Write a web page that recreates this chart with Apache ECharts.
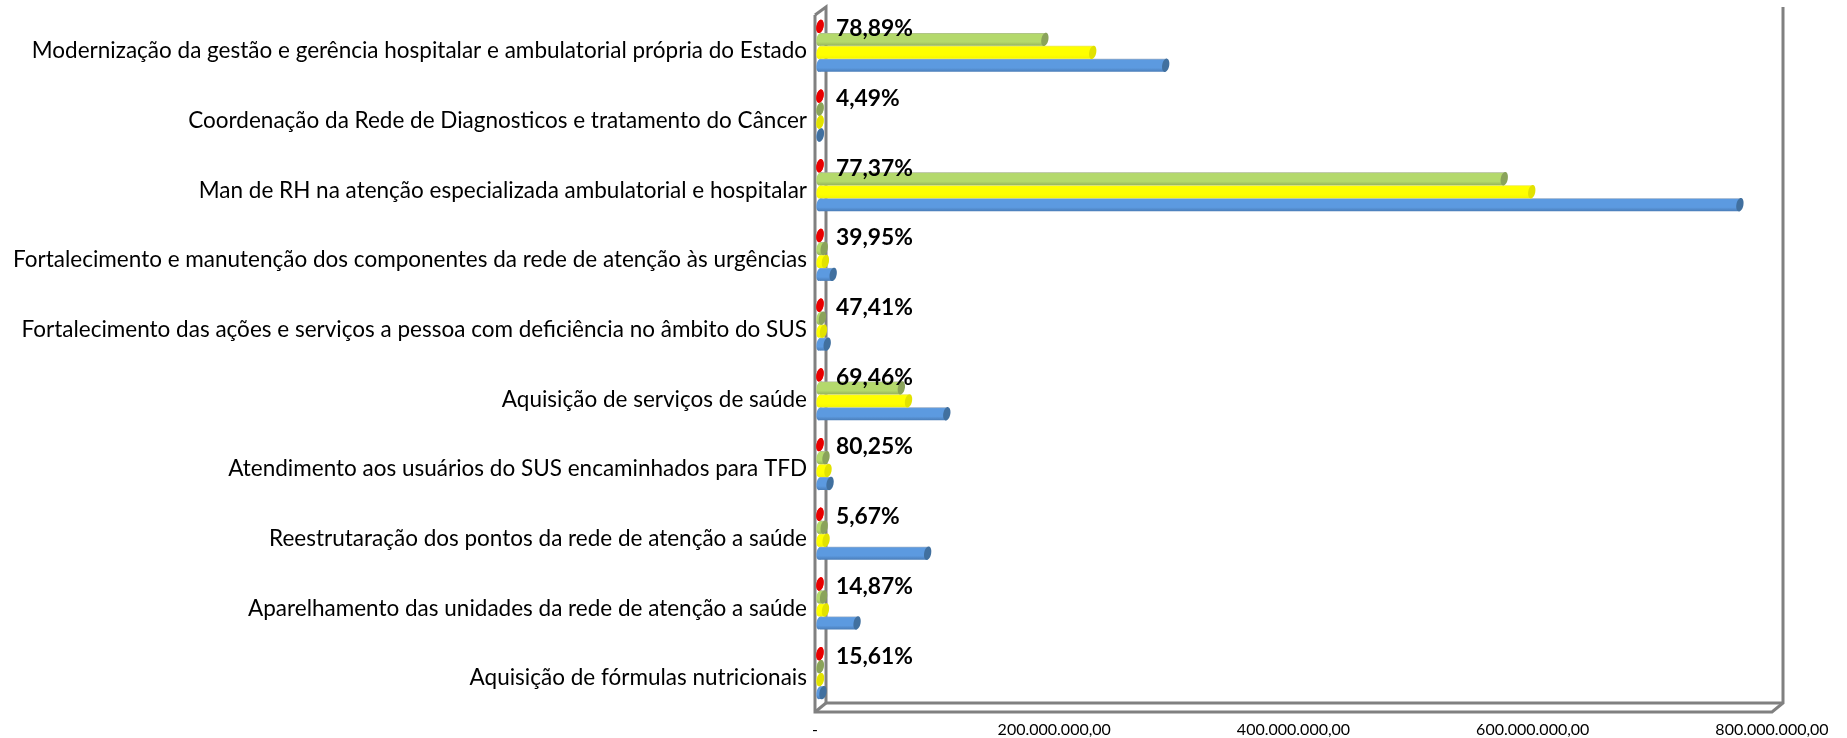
<!DOCTYPE html>
<html>
<head>
<meta charset="utf-8">
<title>Execução por ação</title>
<script src="https://cdn.jsdelivr.net/npm/echarts@6/dist/echarts.min.js"></script>
<style>
  html, body { margin: 0; padding: 0; background: #fff; }
  #chart { width: 1847px; height: 738px; }
</style>
</head>
<body>
<div id="chart"></div>
<script>
// de baixo para cima, como no grafico original
var categories = [
  "Aquisição de fórmulas nutricionais",
  "Aparelhamento das unidades da rede de atenção a saúde",
  "Reestrutaração dos pontos da rede de atenção a saúde",
  "Atendimento aos usuários do SUS encaminhados para TFD",
  "Aquisição de serviços de saúde",
  "Fortalecimento das ações e serviços a pessoa com deficiência no âmbito do SUS",
  "Fortalecimento e manutenção dos componentes da rede de atenção às urgências",
  "Man de RH na atenção especializada ambulatorial e hospitalar",
  "Coordenação da Rede de Diagnosticos e tratamento do Câncer",
  "Modernização da gestão e gerência hospitalar e ambulatorial própria do Estado"
];
var blueValues = [2500000, 31000000, 90000000, 8400000, 106000000, 6000000, 11000000, 769000000, 300000, 289000000];
var yellowValues = [400000, 4600000, 5100000, 6700000, 74000000, 2900000, 4500000, 595000000, 100000, 228000000];
var greenValues = [300000, 3000000, 3500000, 5000000, 68000000, 2000000, 3500000, 572000000, 100000, 188000000];
var percentValues = [15.61, 14.87, 5.67, 80.25, 69.46, 47.41, 39.95, 77.37, 4.49, 78.89];
var percentLabels = ["15,61%", "14,87%", "5,67%", "80,25%", "69,46%", "47,41%", "39,95%", "77,37%", "4,49%", "78,89%"];
var xTickLabels = ["-", "200.000.000,00", "400.000.000,00", "600.000.000,00", "800.000.000,00"];

var FONT = "Lato";
var DEPTH_X = 5, DEPTH_Y = 5; // deslocamento do plano 3d das barras
var BAR_RATIO = 0.186;

// cores: borda, topo, base, tampa
var blueStyle = ["#9fb0c4", "#5c9ae0", "#4a7db8", "#41709f"];
var yellowStyle = ["#e8e86a", "#ffff00", "#f5f500", "#e2e200"];
var greenStyle = ["#adb39c", "#b4d96c", "#95b35c", "#8aa35a"];
var redStyle = ["#ff0000", "#ff0000", "#ff0000", "#e80000"];

function cylinder(slot, colors, withLabel) {
  return function (params, api) {
    var val = api.value(0);
    var idx = api.value(1);
    var start = api.coord([0, idx]);
    var end = api.coord([val, idx]);
    var h = api.size([0, 1])[1] * BAR_RATIO;
    var cy = start[1] - DEPTH_Y + (1.5 - slot) * h;
    var x0 = start[0] + DEPTH_X;
    var x1 = end[0] + DEPTH_X;
    var rx = 3.5, ry = h / 2 + 0.3;
    var tilt = -0.2;
    var fill = new echarts.graphic.LinearGradient(0, 0, 0, 1, [
      { offset: 0, color: colors[0] },
      { offset: 0.1, color: colors[1] },
      { offset: 0.7, color: colors[1] },
      { offset: 1, color: colors[2] }
    ]);
    var children = [
      { type: "ellipse", shape: { cx: 0, cy: 0, rx: rx, ry: ry }, x: x0, y: cy, rotation: tilt, style: { fill: fill } },
      { type: "rect", shape: { x: x0, y: cy - h / 2, width: Math.max(x1 - x0, 0), height: h }, style: { fill: fill } },
      { type: "ellipse", shape: { cx: 0, cy: 0, rx: rx, ry: ry }, x: x1, y: cy, rotation: tilt, style: { fill: colors[3] } }
    ];
    if (withLabel) {
      children.push({
        type: "text",
        style: {
          text: percentLabels[idx],
          x: x0 + 16,
          y: cy + 2.5,
          fill: "#000",
          font: "bold 22.8px " + FONT,
          verticalAlign: "middle"
        }
      });
    }
    return { type: "group", children: children };
  };
}

function pairs(arr) {
  return arr.map(function (v, i) { return [v, i]; });
}

function cylSeries(name, data, slot, colors, withLabel) {
  return {
    name: name,
    type: "custom",
    clip: false,
    z: 2 + slot,
    coordinateSystem: "cartesian2d",
    encode: { x: 0, y: 1 },
    data: pairs(data),
    renderItem: cylinder(slot, colors, withLabel)
  };
}

// moldura 3d
var L = 815, R = 1772, T = 16, B = 712;
var frameStyle = { stroke: "#808080", lineWidth: 3, fill: null };
function frameLine(points) {
  return { type: "polyline", shape: { points: points }, style: frameStyle, z: 1 };
}

var chart = echarts.init(document.getElementById("chart"));
chart.setOption({
  animation: false,
  backgroundColor: "#fff",
  grid: { left: L, right: 1847 - R, top: T, height: B - T + 1 },
  xAxis: {
    type: "value",
    min: 0,
    max: 800000000,
    interval: 200000000,
    axisLine: { show: false },
    axisTick: { show: false },
    splitLine: { show: false },
    axisLabel: {
      color: "#000",
      fontFamily: FONT,
      fontSize: 16,
      margin: 9,
      hideOverlap: false,
      formatter: function (v) { return xTickLabels[v / 200000000]; }
    }
  },
  yAxis: {
    type: "category",
    data: categories,
    axisLine: { show: false },
    axisTick: { show: false },
    axisLabel: {
      color: "#000",
      fontFamily: FONT,
      fontSize: 22.5,
      margin: 8,
      interval: 0
    }
  },
  graphic: [
    frameLine([[L, T - 1], [L, B], [R, B], [R + 11, B - 9], [R + 11, 7]]),
    frameLine([[L, T - 1], [L + 11, 7], [L + 11, B - 9], [R + 11, B - 9]]),
    frameLine([[L, B], [L + 11, B - 9]])
  ],
  series: [
    cylSeries("Orçado", blueValues, 0, blueStyle, false),
    cylSeries("Empenhado", yellowValues, 1, yellowStyle, false),
    cylSeries("Liquidado", greenValues, 2, greenStyle, false),
    cylSeries("Percentual", percentValues, 3, redStyle, true)
  ]
});
</script>
</body>
</html>
